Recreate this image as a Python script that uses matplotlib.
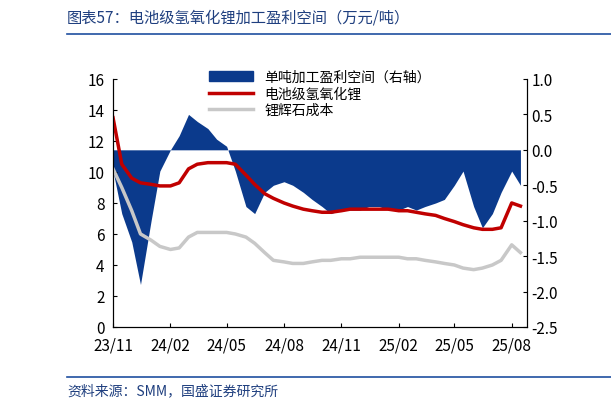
import matplotlib
matplotlib.use("Agg")
import matplotlib.pyplot as plt
import pandas as pd
from matplotlib.patches import Patch
from matplotlib.lines import Line2D

plt.rcParams['font.family'] = ['Noto Sans CJK SC', 'DejaVu Sans']

dates = pd.date_range('2023-11-01', periods=44, freq='SMS')
profit = [-0.3, -0.9, -1.3, -1.9, -1.0, -0.3, 0.0, 0.2, 0.5, 0.4, 0.3, 0.15, 0.05, -0.3,
          -0.8, -0.9, -0.6, -0.5, -0.45, -0.5, -0.6, -0.7, -0.8, -0.9, -0.85, -0.85, -0.85,
          -0.8, -0.8, -0.85, -0.85, -0.8, -0.85, -0.8, -0.75, -0.7, -0.5, -0.3, -0.8, -1.1,
          -0.9, -0.6, -0.3, -0.5]
lioh = [13.5, 10.5, 9.6, 9.3, 9.2, 9.1, 9.1, 9.3, 10.2, 10.5, 10.6, 10.6, 10.6, 10.5, 9.8,
        9.2, 8.6, 8.3, 8.0, 7.8, 7.6, 7.5, 7.4, 7.4, 7.5, 7.6, 7.6, 7.6, 7.6, 7.6, 7.5, 7.5,
        7.4, 7.3, 7.2, 7.0, 6.8, 6.6, 6.4, 6.3, 6.3, 6.4, 8.0, 7.8]
ore = [10.2, 9.0, 7.5, 6.0, 5.6, 5.2, 5.0, 5.1, 5.8, 6.1, 6.1, 6.1, 6.1, 6.0, 5.8, 5.4,
       4.8, 4.3, 4.2, 4.1, 4.1, 4.2, 4.3, 4.3, 4.4, 4.4, 4.5, 4.5, 4.5, 4.5, 4.5, 4.4, 4.4,
       4.3, 4.2, 4.1, 4.0, 3.8, 3.7, 3.8, 4.0, 4.3, 5.3, 4.8]
labels = ['单吨加工盈利空间（右轴）', '电池级氢氧化锂', '锂辉石成本']

navy = '#0b3a8c'
fig = plt.figure(figsize=(6.11, 4.10), dpi=100)
ax = fig.add_axes([0.185, 0.2, 0.677, 0.605])
ax2 = ax.twinx()
ax2.fill_between(dates, 0, profit, color=navy, lw=0)
ax2.set_ylim(-2.5, 1.0)
rt = [1.0, 0.5, 0.0, -0.5, -1.0, -1.5, -2.0, -2.5]
ax2.set_yticks(rt)
ax2.set_yticklabels([f'{v:.1f}' for v in rt])
ax.set_zorder(ax2.get_zorder() + 1)
ax.patch.set_visible(False)
ax.plot(dates, ore, color='#c8c8c8', lw=2.5)
ax.plot(dates, lioh, color='#c00000', lw=2.5)
ax.set_ylim(0, 16)
ax.set_yticks(range(0, 17, 2))
ax.set_xlim(pd.Timestamp('2023-11-01'), pd.Timestamp('2025-08-25'))
ticks = pd.date_range('2023-11-01', '2025-08-01', freq='3MS')
ax.set_xticks(ticks)
ax.set_xticklabels([d.strftime('%y/%m') for d in ticks])
for a in (ax, ax2):
    a.tick_params(labelsize=11, direction='in', length=3)
    a.spines['top'].set_visible(False)
ax.tick_params(axis='x', pad=7)
ax.tick_params(axis='y', pad=6)
handles = [Patch(color=navy), Line2D([], [], color='#c00000', lw=2.5), Line2D([], [], color='#c8c8c8', lw=2.5)]
ax.legend(handles, labels, loc='upper center', bbox_to_anchor=(0.5, 1.06), frameon=False,
          fontsize=10, handlelength=3.2, labelspacing=0.2, borderaxespad=0)
fig.text(0.11, 0.955, '图表57：电池级氢氧化锂加工盈利空间（万元/吨）', fontsize=11, color='#1f3f7f',
         style='italic', va='center')
fig.add_artist(Line2D([0.11, 1.0], [0.915, 0.915], color='#1f4f9f', lw=1.2))
fig.add_artist(Line2D([0.11, 1.0], [0.078, 0.078], color='#1f4f9f', lw=1.2))
fig.text(0.11, 0.045, '资料来源：SMM，国盛证券研究所', fontsize=10, color='#1f3f7f', style='italic', va='center')
fig.savefig('out.png', dpi=100)
